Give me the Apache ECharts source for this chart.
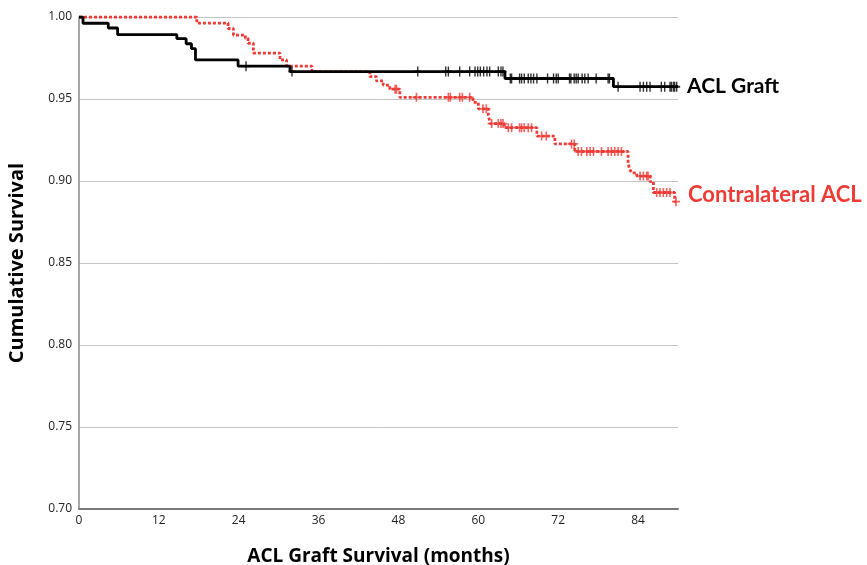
<!DOCTYPE html>
<html>
<head>
<meta charset="utf-8">
<script src="https://cdn.jsdelivr.net/npm/echarts@6/dist/echarts.min.js"></script>
<style>html,body{margin:0;padding:0;background:#fff;}#main{width:867px;height:565px;}</style>
</head>
<body>
<div id="main"></div>
<script>
// Kaplan-Meier step points [months, cumulative survival]
var graftSteps = [[0,1],[0.6,0.9962],[4.4,0.9933],[5.8,0.9892],[14.7,0.9868],[16.1,0.9837],[16.9,0.9807],[17.5,0.9738],[23.9,0.970],[31.7,0.9667],[64,0.9625],[80.3,0.9575],[90,0.9575]];
var contraSteps = [[0,1],[17.7,0.9963],[22.4,0.993],[23.2,0.989],[25,0.987],[25.4,0.984],[26.2,0.978],[30.2,0.9738],[31.2,0.970],[35,0.9667],[43.7,0.9636],[44.7,0.961],[45.7,0.9585],[46.7,0.956],[48.2,0.951],[59.2,0.948],[60,0.944],[61.5,0.940],[61.8,0.935],[63.9,0.9325],[68.8,0.9274],[71.5,0.9226],[74.5,0.918],[82.5,0.9108],[82.7,0.9077],[83,0.905],[83.8,0.903],[85.8,0.8996],[86.3,0.893],[89.5,0.8874],[89.7,0.8874]];
// Censoring times (months)
var graftCensored = [25.1,32,50.9,55.1,55.5,57.2,58.7,59.5,59.9,60.3,60.8,61.3,61.7,63,63.4,63.7,64.8,65,66.2,66.5,66.9,67.5,67.9,68.3,68.8,70.4,71.3,71.7,72,73.7,73.9,74.4,74.7,75,75.6,76,76.5,77.7,79.5,79.7,81,84.3,84.8,85.3,85.8,87.5,88,88.8,89,89.3,89.5,89.8];
var contraCensored = [47.5,47.7,50.7,55.5,55.8,57.2,57.6,58.7,60.7,61.2,62,63,63.4,63.7,64.5,65,66.2,66.5,66.9,67.5,68,69.5,70.2,74,74.4,75,75.5,76.3,76.8,77.3,78.5,79.5,80,80.5,81,81.5,84.3,84.8,85.3,85.5,86.8,87.3,87.8,88.3,88.8,89.7];
var xTicks = [0,12,24,36,48,60,72,84];
var seriesNames = ['ACL Graft','Contralateral ACL'];

function survAt(steps, t){
  var v = steps[0][1];
  for (var i=0;i<steps.length;i++){ if (steps[i][0] <= t) v = steps[i][1]; }
  return v;
}
function censorPoints(steps, times){
  return times.map(function(t){ return [t, survAt(steps,t)]; });
}
var plusPath = 'path://M4,0 L6,0 L6,4 L10,4 L10,6 L6,6 L6,10 L4,10 L4,6 L0,6 L0,4 L4,4 Z';
var BLACK = '#000000', RED = '#ee3b36';

var chart = echarts.init(document.getElementById('main'), null, {renderer:'canvas'});
chart.setOption({
  animation:false,
  backgroundColor:'#fff',
  grid:{left:79, right:189, top:17, bottom:56, containLabel:false, outerBoundsMode:'none'},
  xAxis:{
    type:'value', min:0, max:90, interval:12,
    name:'ACL Graft Survival (months)', nameLocation:'middle', nameGap:38,
    nameTextStyle:{fontFamily:'Open Sans', fontWeight:'bold', fontSize:19, color:'#000'},
    axisLine:{show:true, onZero:false, lineStyle:{color:'#7a7a7a', width:2}},
    axisTick:{show:false},
    splitLine:{show:false},
    axisLabel:{showMaxLabel:false, fontFamily:'Open Sans', fontSize:12, color:'#222', margin:6,
      formatter:function(v){ return xTicks.indexOf(v) >= 0 ? String(v) : ''; }}
  },
  yAxis:{
    type:'value', min:0.70, max:1.00, interval:0.05,
    name:'Cumulative Survival', nameLocation:'middle', nameGap:52, nameRotate:90,
    nameTextStyle:{fontFamily:'Open Sans', fontWeight:'bold', fontSize:20, color:'#000'},
    axisLine:{show:true, lineStyle:{color:'#8a8a8a', width:1.5}},
    axisTick:{show:false},
    splitLine:{show:true, lineStyle:{color:'#c4c4c4', width:1}},
    axisLabel:{fontFamily:'Open Sans', fontSize:12, color:'#222', margin:7,
      formatter:function(v){ return v.toFixed(2); }}
  },
  series:[
    {name:seriesNames[0], type:'line', step:'end', data:graftSteps, symbol:'none', z:3,
     lineStyle:{color:BLACK, width:2.8},
     endLabel:{show:true, formatter:seriesNames[0], color:BLACK, fontFamily:'Lato', fontWeight:'bold', fontSize:21, distance:9, offset:[0,0]}},
    {name:seriesNames[1], type:'line', step:'end', data:contraSteps, symbol:'none', z:2,
     lineStyle:{color:RED, width:2.8, type:[3,2]},
     endLabel:{show:true, formatter:seriesNames[1], color:RED, fontFamily:'Lato', fontWeight:'bold', fontSize:22, distance:12, offset:[0,-7]}},
    {name:seriesNames[0]+' censored', type:'scatter', data:censorPoints(graftSteps, graftCensored), z:4,
     symbol:plusPath, symbolSize:[7,10], itemStyle:{color:BLACK}},
    {name:seriesNames[1]+' censored', type:'scatter', data:censorPoints(contraSteps, contraCensored), z:4,
     symbol:plusPath, symbolSize:[8,9], itemStyle:{color:RED}}
  ]
});
</script>
</body>
</html>
